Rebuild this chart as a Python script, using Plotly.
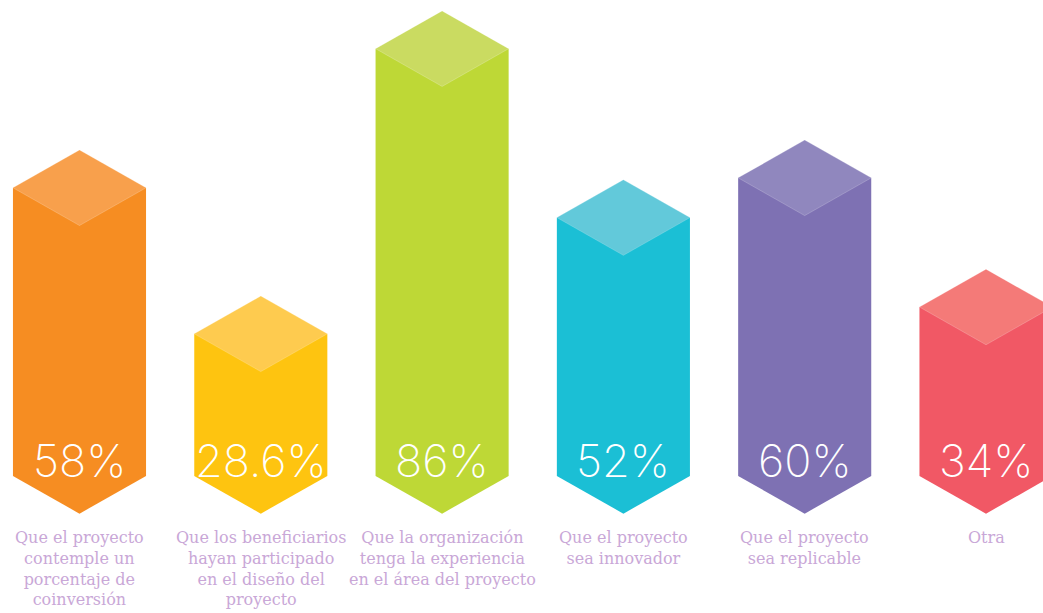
import plotly.graph_objects as go

# Survey answers and their shares (%)
categories = [
    "Que el proyecto<br>contemple un<br>porcentaje de<br>coinversión",
    "Que los beneficiarios<br>hayan participado<br>en el diseño del<br>proyecto",
    "Que la organización<br>tenga la experiencia<br>en el área del proyecto",
    "Que el proyecto<br>sea innovador",
    "Que el proyecto<br>sea replicable",
    "Otra",
]
values = [58, 28.6, 86, 52, 60, 34]
value_labels = ["58%", "28.6%", "86%", "52%", "60%", "34%"]

front_colors = ["#f68d22", "#fec410", "#bed836", "#1bbfd5", "#7e71b3", "#f15865"]
top_colors = ["#f8a04c", "#fecb4f", "#cadb61", "#62c9da", "#9087be", "#f47a78"]
label_color = "#c9a7d7"

HALF_W = 0.367   # half bar width, in category units
DEPTH = 7.6      # vertical half-height of the top face, in % units

fig = go.Figure()

for i, (v, fc, tc) in enumerate(zip(values, front_colors, top_colors)):
    c = i
    # front face with pointed base
    fig.add_trace(go.Scatter(
        x=[c - HALF_W, c + HALF_W, c + HALF_W, c, c - HALF_W, c - HALF_W],
        y=[v, v, 0, -DEPTH, 0, v],
        fill="toself", fillcolor=fc, mode="lines",
        line=dict(width=0, color=fc), hoverinfo="skip", showlegend=False,
    ))
    # lighter top face
    fig.add_trace(go.Scatter(
        x=[c - HALF_W, c, c + HALF_W, c, c - HALF_W],
        y=[v, v + DEPTH, v, v - DEPTH, v],
        fill="toself", fillcolor=tc, mode="lines",
        line=dict(width=0.6, color="rgba(255,255,255,0.35)"),
        hoverinfo="skip", showlegend=False,
    ))

annotations = []
for i, (lab, cat) in enumerate(zip(value_labels, categories)):
    annotations.append(dict(
        x=i, y=3.0, xref="x", yref="y", text=lab, showarrow=False,
        font=dict(family="Inter", size=45, color="white", weight=200),
        xanchor="center", yanchor="middle",
    ))
    annotations.append(dict(
        x=i, y=-10.0, xref="x", yref="y", text=cat, showarrow=False,
        font=dict(family="DejaVu Serif", size=16, color=label_color),
        xanchor="center", yanchor="top", align="center",
    ))

fig.update_layout(
    width=1043, height=613,
    margin=dict(l=0, r=0, t=0, b=0),
    paper_bgcolor="white", plot_bgcolor="white",
    xaxis=dict(range=[-0.4385, 5.3144], visible=False, fixedrange=True),
    yaxis=dict(range=[-27.6, 95.8], visible=False, fixedrange=True),
    annotations=annotations,
)

fig.write_html("out.html")
